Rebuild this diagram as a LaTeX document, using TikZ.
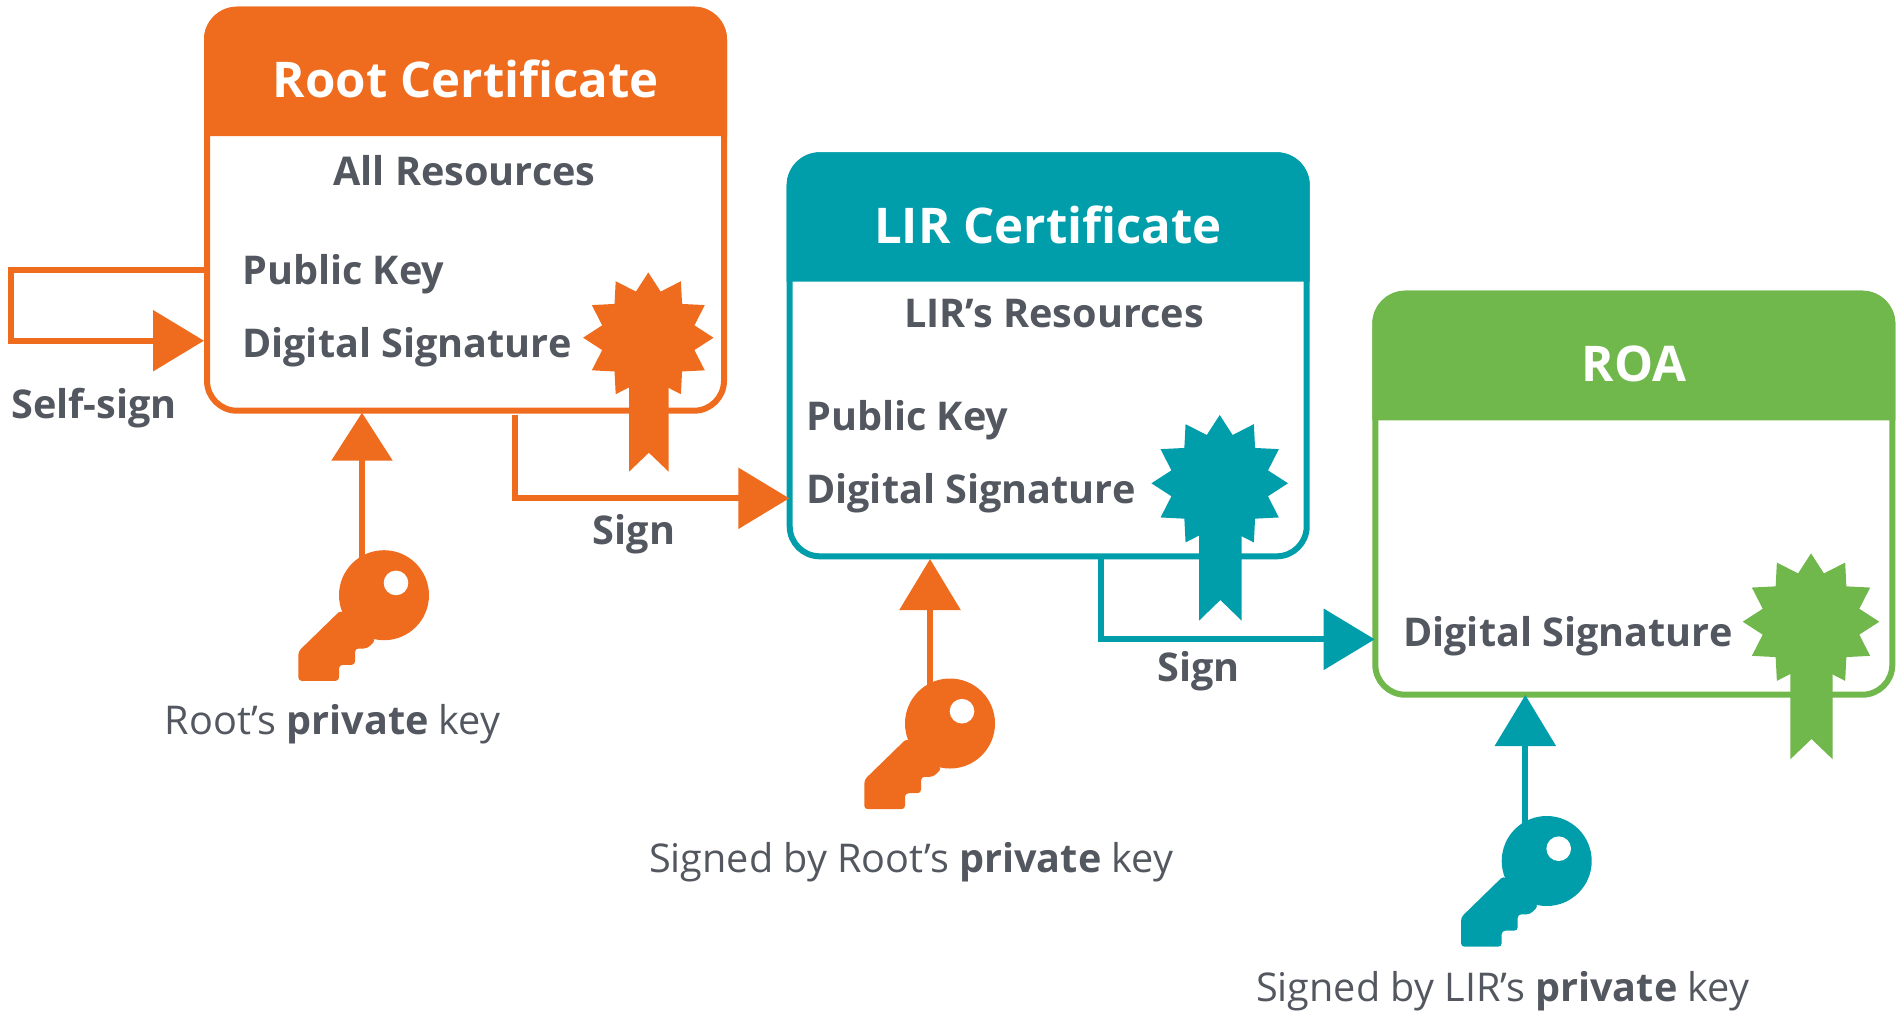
\documentclass[tikz,border=0pt]{standalone}
\usepackage{fontspec}
\setmainfont{Open Sans}
\usetikzlibrary{arrows.meta}
\definecolor{cor}{HTML}{EF6C1E}
\definecolor{cte}{HTML}{009EAB}
\definecolor{cgr}{HTML}{71B84C}
\definecolor{ctx}{HTML}{53575F}
\tikzset{
  card/.style={draw=#1,line width=6pt,rounded corners=30pt,inner sep=0pt,outer sep=3pt,minimum width=517pt,minimum height=401pt},
  titletxt/.style={text=white,font=\fontsize{49.2}{49.2}\selectfont\bfseries,inner sep=0pt,anchor=base},
  lbl/.style={text=ctx,font=\fontsize{39.6}{39.6}\selectfont\bfseries,inner sep=0pt,anchor=base west},
  captxt/.style={text=ctx,font=\fontsize{39.6}{39.6}\selectfont,inner sep=0pt,anchor=base west},
  link/.style={draw=#1,line width=6pt,-{Triangle[length=51pt,width=60pt,fill=#1]}},
  sealicon/.pic={
    \fill[pic actions] (90:68.3) \foreach \a in {0,...,11} { -- ({75-\a*30}:50) -- ({60-\a*30}:68.3) } -- cycle;
  },
  keyicon/.pic={
    \fill[pic actions] (0,0) circle[radius=45pt];
    \fill[pic actions,rounded corners=3.5pt] (-43.3,15) -- (-85.7,56.3) -- (-85.7,85.7) -- (-45,85.7) -- (-45,69.7) -- (-29,69.7) -- (-29,53.3) -- (-16.7,53.3) -- (-8.3,45) -- cycle;
    \fill[white] (12,-12.3) circle[radius=12.3pt];
  },
}
\newcommand{\headfill}[5]{%
  \fill[#1] (#2,#5) [rounded corners=33pt] -- (#2,#4) -- (#3,#4) [sharp corners] -- (#3,#5) -- cycle;}
\newcommand{\ribbon}[6]{%
  \fill[#1] (#2,#3) -- (#4,#3) -- (#4,#6) -- ({(#2+#4)/2},#5) -- (#2,#6) -- cycle;}
\begin{document}
\begin{tikzpicture}[x=1pt,y=-1pt]
\useasboundingbox (0,0) rectangle (1902,1010);
\fill[white] (0,0) rectangle (1902,1010);
% boxes
\node[card=cor] (rootbox) at (465.5,210.2) {};
\node[card=cte] (lirbox) at (1048.2,355.8) {};
\node[card=cgr] (roabox) at (1633.8,494.2) {};
\headfill{cor}{204}{727}{6.7}{136}
\headfill{cte}{786.7}{1309.7}{152.3}{281.5}
\headfill{cgr}{1372.3}{1895.3}{290.7}{420.3}
% titles and labels
\node[titletxt] (roottitle) at (466,97) {Root Certificate};
\node[titletxt] (lirtitle) at (1048,243) {LIR Certificate};
\node[titletxt] (roatitle) at (1634,381.5) {ROA};
\node[lbl,anchor=base] (rootres) at (464.5,185) {All Resources};
\node[lbl] (rootpk) at (242,284.5) {Public Key};
\node[lbl] (rootds) at (242,357.5) {Digital Signature};
\node[lbl,anchor=base] (lirres) at (1054,327) {LIR’s Resources};
\node[lbl] (lirpk) at (806,430) {Public Key};
\node[lbl] (lirds) at (806,503) {Digital Signature};
\node[lbl] (roads) at (1403,646) {Digital Signature};
\node[lbl] (selfl) at (11,418.7) {Self-sign};
\node[lbl,anchor=base] (signa) at (634,544.5) {Sign};
\node[lbl,anchor=base] (signb) at (1198.5,681.5) {Sign};
\node[captxt] (capa) at (164.5,734) {Root’s \textbf{private} key};
\node[captxt] (capb) at (649,872) {Signed by Root’s \textbf{private} key};
\node[captxt] (capc) at (1256,1001) {Signed by LIR’s \textbf{private} key};
% connectors
\coordinate (selfa) at (11,270);
\coordinate (selfb) at (11,340.7);
\coordinate (signaa) at (514.7,498.3);
\coordinate (signbb) at (1100.7,639.3);
\coordinate (ka) at (384,595.2);
\coordinate (kb) at (950,723.5);
\coordinate (kc) at (1546.7,861);
\coordinate (kal) at (362,570);
\coordinate (kbl) at (930,700);
\coordinate (kcl) at (1525.3,838);
\draw[link=cor] (rootbox.west |- selfa) -- (selfa) -- (selfb) -- (rootbox.west |- selfb);
\draw[link=cor,shorten >=-2.6pt,shorten <=1.3pt] (rootbox.south -| signaa) -- (signaa) -- (lirbox.west |- signaa);
\draw[link=cte,shorten >=-2.4pt] (lirbox.south -| signbb) -- (signbb) -- (roabox.west |- signbb);
\draw[link=cor,-{Triangle[length=48pt,width=60pt,fill=cor]},shorten >=-1pt] (kal) -- (rootbox.south -| kal);
\draw[link=cor,shorten >=-0.3pt] (kbl) -- (lirbox.south -| kbl);
\draw[link=cte,shorten >=-2.7pt] (kcl) -- (roabox.south -| kcl);
% seals
\ribbon{cor}{629}{350}{668.7}{452.7}{471.7}
\pic[fill=cor,scale=0.955] at (648.3,337.7) {sealicon};
\ribbon{cte}{1199}{490}{1241.7}{600}{620.7}
\pic[fill=cte] at (1219.7,483.3) {sealicon};
\ribbon{cgr}{1790.3}{630}{1832.7}{739}{759.3}
\pic[fill=cgr] at (1811,621.7) {sealicon};
% keys
\pic[fill=cor] at (ka) {keyicon};
\pic[fill=cor] at (kb) {keyicon};
\pic[fill=cte] at (kc) {keyicon};
\end{tikzpicture}
\end{document}
